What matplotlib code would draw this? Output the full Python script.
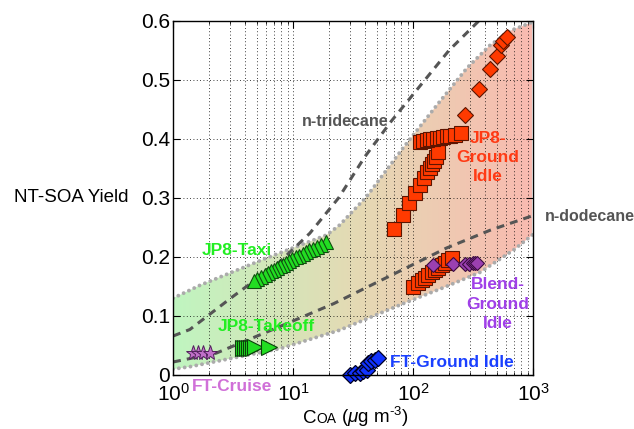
import numpy as np
import matplotlib
matplotlib.use('Agg')
import matplotlib.pyplot as plt
from matplotlib.patches import Polygon
from matplotlib.ticker import FuncFormatter, LogLocator
from matplotlib.colors import LinearSegmentedColormap
from matplotlib.offsetbox import TextArea, HPacker, AnnotationBbox

plt.rcParams['font.family'] = ['Liberation Sans', 'DejaVu Sans']
plt.rcParams['mathtext.fontset'] = 'custom'
plt.rcParams['mathtext.rm'] = 'Liberation Sans'
plt.rcParams['mathtext.it'] = 'Liberation Sans:italic'
plt.rcParams['mathtext.bf'] = 'Liberation Sans:bold'

# ---------------- data ----------------
band_upper_x = [1, 1.68, 6.0, 19, 24.5, 41, 83, 158, 282, 436, 646, 1000]
band_upper_y = [0.130, 0.152, 0.198, 0.237, 0.254, 0.302, 0.385, 0.457, 0.520, 0.558, 0.583, 0.598]
band_lower_x = [1, 1.38, 7.9, 24.5, 83, 190, 363, 692, 1000]
band_lower_y = [0.010, 0.014, 0.045, 0.076, 0.121, 0.150, 0.174, 0.212, 0.238]

tridecane_x = [1, 1.38, 3.16, 7.6, 13.8, 24, 39.8, 66, 126, 200, 355]
tridecane_y = [0.066, 0.077, 0.133, 0.190, 0.240, 0.300, 0.370, 0.430, 0.500, 0.550, 0.600]
dodecane_x = [1, 2.29, 7.76, 21.9, 70.8, 190, 437, 1000]
dodecane_y = [0.022, 0.037, 0.082, 0.121, 0.172, 0.215, 0.245, 0.270]

gi_col_x = [69.5, 82, 93, 104, 114, 124, 132, 139, 145, 150, 155, 162]
gi_col_y = [0.248, 0.271, 0.291, 0.309, 0.322, 0.333, 0.343, 0.350, 0.357, 0.363, 0.370, 0.378]
gi_row_x = [114, 122, 130, 139, 148, 158, 168, 179, 191, 205, 222, 249]
gi_row_y = [0.394, 0.396, 0.398, 0.399, 0.400, 0.401, 0.402, 0.403, 0.404, 0.405, 0.406, 0.409]
gi_low_x = [100.7, 111, 118, 126, 134, 143, 152, 163, 173, 185, 197, 210]
gi_low_y = [0.149, 0.156, 0.161, 0.165, 0.170, 0.174, 0.178, 0.182, 0.186, 0.190, 0.194, 0.198]
gi_dia_x = [271, 357, 434, 498, 538, 565, 603]
gi_dia_y = [0.441, 0.484, 0.518, 0.540, 0.559, 0.566, 0.573]

blend_x = [148, 217, 271, 295, 314, 329, 343]
blend_y = [0.186, 0.188, 0.188, 0.188, 0.189, 0.189, 0.190]

taxi_x = [18.8, 17.0, 15.8, 14.7, 13.7, 12.8, 12.0, 11.2, 10.5, 9.9, 9.3, 8.8,
          8.3, 7.8, 7.4, 7.0, 6.6, 6.2, 5.8, 5.4, 5.0, 4.7]
taxi_y = [0.226, 0.221, 0.217, 0.214, 0.211, 0.208, 0.205, 0.202, 0.199, 0.196, 0.193, 0.190,
          0.187, 0.184, 0.181, 0.178, 0.176, 0.173, 0.170, 0.166, 0.163, 0.160]

takeoff_x = [3.83, 3.98, 4.13, 4.29, 4.46, 4.64, 4.82, 6.3]
takeoff_y = [0.046, 0.046, 0.046, 0.046, 0.046, 0.046, 0.047, 0.048]

cruise_x = [1.48, 1.62, 1.79, 2.03]
cruise_y = [0.037, 0.037, 0.037, 0.037]

ftgi_x = [29.9, 32.9, 36.0, 38.5, 41.0, 42.4, 45.0, 48.0, 51.4]
ftgi_y = [0.000, 0.003, 0.004, 0.006, 0.008, 0.020, 0.023, 0.025, 0.028]

xticks = [1, 10, 100, 1000]
yticks = [0, 0.1, 0.2, 0.3, 0.4, 0.5, 0.6]

# ---------------- figure ----------------
fig = plt.figure(figsize=(6.34, 4.29), dpi=100)
ax = fig.add_axes([0.2729, 0.1259, 0.5678, 0.8258])
ax.set_xscale('log')
ax.set_xlim(1, 1000)
ax.set_ylim(0, 0.6)

# gradient band (colour follows log10 of the x position)
cmap = LinearSegmentedColormap.from_list('band', ['#c0f5c0', '#e4dab4', '#f9bab0'])
lin_x = np.linspace(1, 1000, 12000)
grad = (np.log10(lin_x) / 3.0).reshape(1, -1)
im = ax.imshow(grad, extent=(1, 1000, 0, 0.6), aspect='auto', cmap=cmap,
               origin='lower', zorder=0.2, interpolation='bilinear', vmin=0, vmax=1)
poly_pts = list(zip(band_upper_x, band_upper_y)) + list(zip(band_lower_x[::-1], band_lower_y[::-1]))
poly = Polygon(poly_pts, closed=True, facecolor='none', edgecolor='none', transform=ax.transData)
ax.add_patch(poly)
im.set_clip_path(poly)

dot = dict(color='#ababab', lw=2.8, linestyle=(0, (0.01, 1.5)), dash_capstyle='round', zorder=1.5)
ax.plot(band_upper_x, band_upper_y, **dot)
ax.plot(band_lower_x, band_lower_y, **dot)

dash = dict(color='#555555', lw=2.2, linestyle=(0, (2.6, 2.0)), zorder=1.6)
ax.plot(tridecane_x, tridecane_y, **dash)
ax.plot(dodecane_x, dodecane_y, **dash)

# markers
red_kw = dict(linestyle='none', mfc='#ff3a00', mec='#5c1400', mew=0.8, zorder=3)
ax.plot(gi_low_x, gi_low_y, marker='s', ms=10, **red_kw)
ax.plot(gi_col_x, gi_col_y, marker='s', ms=10, **red_kw)
ax.plot(gi_row_x, gi_row_y, marker='s', ms=10, **red_kw)
ax.plot(gi_dia_x, gi_dia_y, marker='D', ms=8.5, **red_kw)

ax.plot(blend_x, blend_y, marker='D', ms=7.5, linestyle='none', mfc='#9b40b0',
        mec='#3a0a40', mew=0.8, zorder=3.1)

ax.plot(taxi_x, taxi_y, marker='^', ms=10.5, linestyle='none', mfc='#22dd22',
        mec='#0f4f0f', mew=0.8, zorder=3)
ax.plot(takeoff_x, takeoff_y, marker='>', ms=11, linestyle='none', mfc='#22dd22',
        mec='#0a400a', mew=0.8, zorder=3)
ax.plot(cruise_x, cruise_y, marker='*', ms=11, linestyle='none', mfc='#c070c8',
        mec='#50205a', mew=0.7, zorder=3)
ax.plot(ftgi_x, ftgi_y, marker='D', ms=8, linestyle='none', mfc='#1133ff',
        mec='#000022', mew=0.9, zorder=3, clip_on=False)

# text labels
tb = dict(fontweight='bold', fontsize=12.5)
ax.text(62, 0.429, 'n-tridecane', color='#555555', ha='right', va='center',
        fontweight='bold', fontsize=11.5, zorder=4)
ax.text(1259, 0.268, 'n-dodecane', color='#555555', ha='left', va='center',
        fontweight='bold', fontsize=11.5, clip_on=False, zorder=4)
ax.text(422, 0.368, 'JP8-\nGround\nIdle', color='#ff3a14', ha='center', va='center',
        multialignment='center', linespacing=1.35, zorder=4, **tb)
ax.text(511, 0.120, 'Blend-\nGround\nIdle', color='#a040e8', ha='center', va='center',
        multialignment='center', linespacing=1.35, zorder=4, **tb)
ax.text(64.3, 0.021, 'FT-Ground Idle', color='#1a40ff', ha='left', va='center', zorder=4, **tb)
ax.text(3.41, 0.210, 'JP8-Taxi', color='#22ee22', ha='center', va='center', zorder=4, **tb)
ax.text(5.96, 0.082, 'JP8-Takeoff', color='#22ee22', ha='center', va='center', zorder=4, **tb)
ax.text(3.13, -0.019, 'FT-Cruise', color='#d070d8', ha='center', va='center',
        clip_on=False, zorder=4, **tb)

# axes styling
ax.set_xticks(xticks)
ax.xaxis.set_minor_locator(LogLocator(base=10, subs=np.arange(2, 10)))
ax.set_yticks(yticks)
ax.yaxis.set_major_formatter(FuncFormatter(lambda v, p: '0' if abs(v) < 1e-9 else f'{v:.1f}'))
ax.tick_params(which='both', direction='in', top=True, right=True, colors='black')
ax.tick_params(which='major', length=5, width=0.8, labelsize=15)
ax.tick_params(which='minor', length=2.5, width=0.6)
ax.tick_params(axis='x', which='major', pad=6)
ax.tick_params(axis='y', which='major', pad=2)
ax.set_axisbelow(True)
ax.grid(True, which='major', axis='both', color='black', linestyle=(0, (1, 3)), lw=0.6)
ax.grid(True, which='minor', axis='x', color='black', linestyle=(0, (1, 3)), lw=0.6)
for s in ax.spines.values():
    s.set_linewidth(1.0)
    s.set_zorder(5)

# x label: C with small-caps "OA", then (μg m^-3) with a hyphen in the exponent
parts = [TextArea('C', textprops=dict(fontsize=13.5)),
         TextArea('OA', textprops=dict(fontsize=10)),
         TextArea(r' ($\mathit{\mu}$g m$^{\mathregular{' + '\u2010' + r'3}}$)',
                  textprops=dict(fontsize=13.5))]
xl = HPacker(children=parts, align='baseline', pad=0, sep=0)
ab = AnnotationBbox(xl, (0.507, -0.118), xycoords='axes fraction', box_alignment=(0.5, 0.5),
                    frameon=False, annotation_clip=False)
ax.add_artist(ab)

ax.set_ylabel('NT-SOA Yield', fontsize=13.5, rotation=0, ha='center', va='center')
ax.yaxis.set_label_coords(-0.283, 0.502)

fig.savefig('out.png', dpi=100)
